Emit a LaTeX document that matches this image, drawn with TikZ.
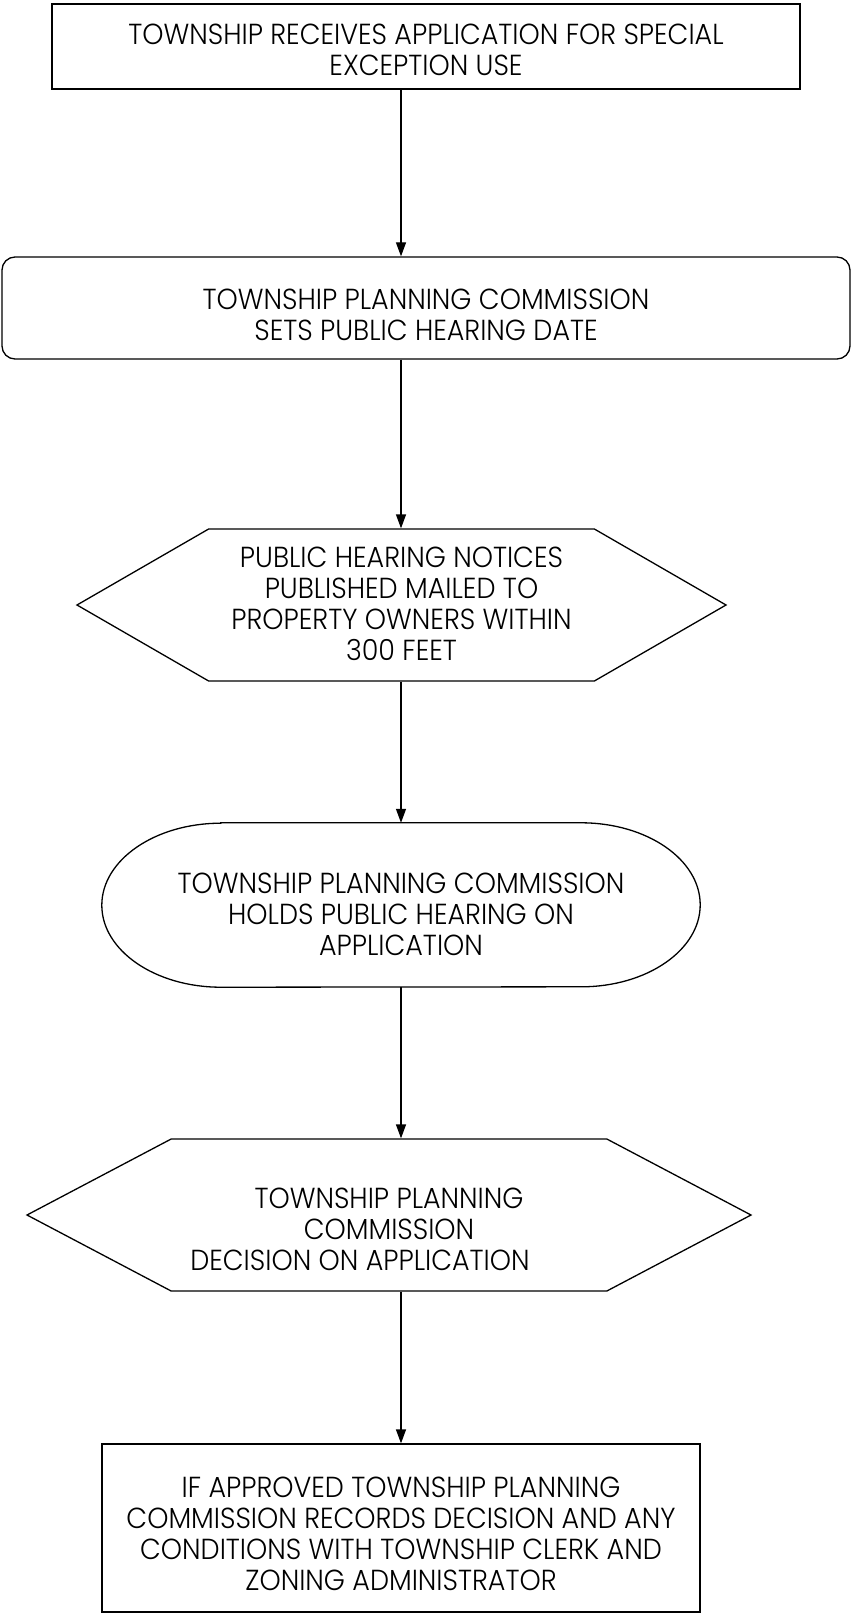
\documentclass[tikz,border=0pt]{standalone}
\usepackage{fontspec}
\setmainfont{Poppins Light}[FakeStretch=0.93]
\usetikzlibrary{%
  arrows.meta,%
  shapes.misc,%
  shapes.symbols,% wg. signal
  calc,%
  positioning%
}
% lines of a box, dropped a little below the middle
\newcommand{\boxlines}[2]{\raisebox{-#1}[\height][\depth]{\begin{tabular}{@{}c@{}}#2\end{tabular}}}

\begin{document}
\begin{tikzpicture}[x=1pt, y=1pt,
  font=\fontsize{29}{31}\selectfont, >={Triangle[length=14pt,width=10pt]},
  line/.style={line width=1.3pt},
  flowbox/.style={rectangle, draw=black, line width=1.3pt, inner sep=0pt},
  roundbox/.style={flowbox, rounded corners=13pt},
  hexbox/.style={signal, signal to=west and east, draw=black, line width=1.3pt, inner sep=0pt},
  holdbox/.style={rectangle, inner sep=0pt}
]
\useasboundingbox (0,0) rectangle (853,-1613);

\node[flowbox, minimum width=748, minimum height=85] (apply) at (426,-46.5)
  {\boxlines{7pt}{TOWNSHIP RECEIVES APPLICATION FOR SPECIAL\\EXCEPTION USE}};
\node[roundbox, minimum width=848, minimum height=102] (sethear) at (426,-308)
  {\boxlines{11pt}{TOWNSHIP PLANNING COMMISSION\\SETS PUBLIC HEARING DATE}};
\node[hexbox, signal pointer angle=60, minimum width=649, minimum height=152] (notice) at (401.5,-605)
  {\boxlines{2.5pt}{PUBLIC HEARING NOTICES\\PUBLISHED MAILED TO\\PROPERTY OWNERS WITHIN\\300 FEET}};
\node[holdbox, minimum width=598, minimum height=164] (hold) at (401,-905)
  {\boxlines{13pt}{TOWNSHIP PLANNING COMMISSION\\HOLDS PUBLIC HEARING ON\\APPLICATION}};
\node[hexbox, signal pointer angle=55.6, minimum width=724, minimum height=152] (decide) at (389,-1215)
  {\boxlines{18pt}{TOWNSHIP PLANNING\\COMMISSION\\DECISION ON APPLICATION\hspace*{58pt}}};
\node[flowbox, minimum width=598, minimum height=168] (record) at (401,-1528)
  {\boxlines{10pt}{IF APPROVED TOWNSHIP PLANNING\\COMMISSION RECORDS DECISION AND ANY\\CONDITIONS WITH TOWNSHIP CLERK AND\\ZONING ADMINISTRATOR}};

% stadium outline of the hearing
\draw[line] ([xshift=119pt]hold.north west) -- ([xshift=-119pt]hold.north east)
  arc[start angle=90, end angle=-90, x radius=119pt, y radius=82pt]
  -- ([xshift=119pt]hold.south west)
  arc[start angle=270, end angle=90, x radius=119pt, y radius=82pt] -- cycle;

\draw[line,->] (apply.south -| hold) -- (sethear.north -| hold);
\draw[line,->] (sethear.south -| hold) -- (notice.north -| hold);
\draw[line,->] (notice.south -| hold) -- (hold.north);
\draw[line,->] (hold.south) -- (decide.north -| hold);
\draw[line,->] (decide.south -| hold) -- (record.north);
\end{tikzpicture}
\end{document}
